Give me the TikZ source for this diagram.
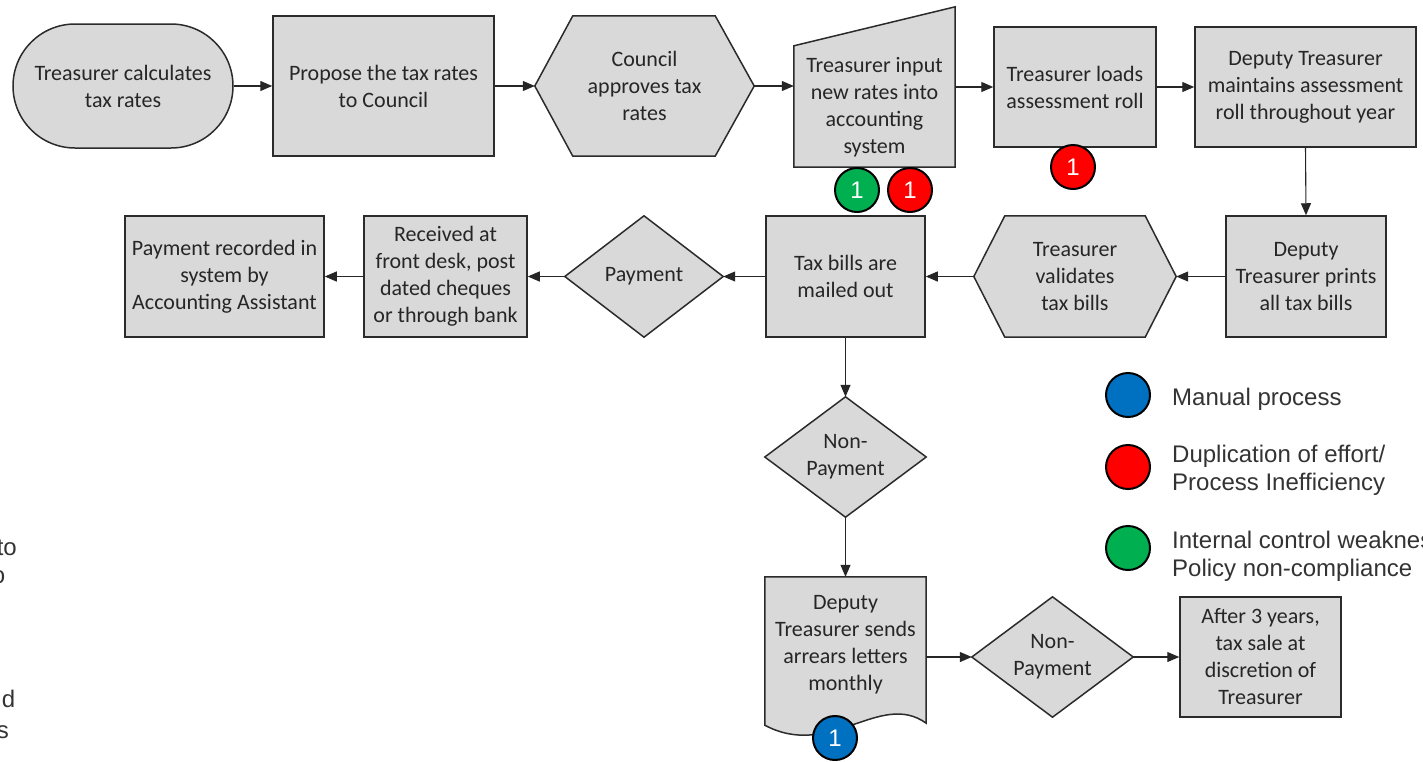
\documentclass[tikz,border=0pt]{standalone}
\usepackage{fontspec}
\setmainfont{Carlito}
\newfontfamily\legendfont{Liberation Sans}
\usetikzlibrary{arrows.meta,shapes.misc,calc,backgrounds}
\definecolor{boxfill}{HTML}{D9D9D9}
\definecolor{edge}{HTML}{2B2B2B}
\definecolor{ink}{HTML}{262626}
\definecolor{legendink}{HTML}{333333}
\definecolor{flagblue}{HTML}{0070C0}
\definecolor{flagred}{HTML}{FF0000}
\definecolor{flaggreen}{HTML}{00B050}

\begin{document}
\begin{tikzpicture}[x=1pt,y=-1pt,
  label text/.style={font=\fontsize{22}{27}\selectfont, align=center, text=ink, inner sep=0pt},
  proc/.style={label text, rectangle, draw=edge, fill=boxfill, line width=1.5pt},
  ghost/.style={label text, rectangle, draw=none, fill=none},
  outline/.style={draw=edge, fill=boxfill, line width=1.5pt, line join=miter},
  link/.style={-{Triangle[length=12pt,width=10pt]}, line width=1.1pt, draw=ink},
  flag/.style={circle, draw=black, line width=2pt, minimum size=44pt, inner sep=0pt,
    text=white, font=\legendfont\fontsize{24}{24}\selectfont},
  legend text/.style={font=\legendfont\fontsize{24}{28}\selectfont, text=legendink,
    align=left, inner sep=0pt}
]
\useasboundingbox (0,0) rectangle (1423,761);
\clip (0,0) rectangle (1423,761);

% ---------- top row ----------
\node[proc, rounded rectangle, minimum width=220pt, minimum height=124pt]
  (calc) at (123,86) {Treasurer calculates\\tax rates};
\node[proc, minimum width=221pt, minimum height=140pt]
  (propose) at (383.5,86) {Propose the tax rates\\to Council};
\node[ghost, minimum width=219pt, minimum height=140pt]
  (approve) at (644.5,86) {Council\\approves tax\\rates};
\node[ghost, minimum width=161pt, minimum height=160pt] (input) at (874.5,87) {};
\node[label text] (inputtext) at (874.5,107.5)
  {Treasurer input\\new rates into\\accounting\\system};
\node[proc, minimum width=162pt, minimum height=120pt]
  (loads) at (1075,87) {Treasurer loads\\assessment roll};
\node[proc, minimum width=221pt, minimum height=120pt]
  (maintain) at (1305.5,87) {Deputy Treasurer\\maintains assessment\\roll throughout year};

% ---------- second row ----------
\node[proc, minimum width=160pt, minimum height=121pt]
  (prints) at (1306,276.5) {Deputy\\Treasurer prints\\all tax bills};
\node[ghost, minimum width=202pt, minimum height=121pt]
  (validate) at (1075,276.5) {Treasurer\\validates\\tax bills};
\node[proc, minimum width=159pt, minimum height=121pt]
  (mailed) at (845.5,276.5) {Tax bills are\\mailed out};
\node[ghost, minimum width=158pt, minimum height=121pt]
  (pay) at (644,276.5) {Payment};
\node[proc, minimum width=163pt, minimum height=121pt]
  (received) at (445.5,276.5) {Received at\\front desk, post\\dated cheques\\or through bank};
\node[proc, minimum width=199pt, minimum height=121pt]
  (recorded) at (224.5,276.5) {Payment recorded in\\system by\\Accounting Assistant};

% ---------- non-payment branch ----------
\node[ghost, minimum width=161pt, minimum height=120pt]
  (nonpayA) at (845.5,457) {Non-\\Payment};
\node[ghost, minimum width=161pt, minimum height=148pt] (letters) at (845.5,651) {};
\node[label text] (letterstext) at (845.5,645)
  {Deputy\\Treasurer sends\\arrears letters\\monthly};
\node[ghost, minimum width=161pt, minimum height=120pt]
  (nonpayB) at (1052.5,657) {Non-\\Payment};
\node[proc, minimum width=161pt, minimum height=120pt]
  (after) at (1260.5,657) {After 3 years,\\tax sale at\\discretion of\\Treasurer};

% ---------- outlined shapes behind their text ----------
\begin{scope}[on background layer]
  % hexagons
  \draw[outline] ($(approve.north west)+(38,0)$) -- ($(approve.north east)+(-39,0)$)
    -- (approve.east) -- ($(approve.south east)+(-39,0)$)
    -- ($(approve.south west)+(38,0)$) -- (approve.west) -- cycle;
  \draw[outline] ($(validate.north west)+(31,0)$) -- ($(validate.north east)+(-31,0)$)
    -- (validate.east) -- ($(validate.south east)+(-31,0)$)
    -- ($(validate.south west)+(31,0)$) -- (validate.west) -- cycle;
  % manual input
  \draw[outline] (input.south west) -- (input.south east) -- (input.north east)
    -- ($(input.north west)+(0,39)$) -- cycle;
  % decisions
  \draw[outline] (pay.north) -- (pay.east) -- (pay.south) -- (pay.west) -- cycle;
  \draw[outline] (nonpayA.north) -- (nonpayA.east) -- (nonpayA.south) -- (nonpayA.west) -- cycle;
  \draw[outline] (nonpayB.north) -- (nonpayB.east) -- (nonpayB.south) -- (nonpayB.west) -- cycle;
  % document
  \draw[outline] (letters.north west) -- (letters.north east)
    -- ($(letters.south east)+(0,-2)$) .. controls (880,690) and (830,760) .. (letters.south west)
    -- cycle;
\end{scope}

% ---------- connectors ----------
\draw[link] (calc.east) -- (propose.west);
\draw[link] (propose.east) -- (approve.west);
\draw[link] (approve.east) -- (approve.east -| input.west);
\draw[link] (input.east |- loads.west) -- (loads.west);
\draw[link] (loads.east) -- (maintain.west);
\draw[link] (maintain.south) -- (prints.north);
\draw[link] (prints.west) -- (validate.east);
\draw[link] (validate.west) -- (mailed.east);
\draw[link] (mailed.west) -- (pay.east);
\draw[link] (pay.west) -- (received.east);
\draw[link] (received.west) -- (recorded.east);
\draw[link] (mailed.south) -- (nonpayA.north);
\draw[link] (nonpayA.south) -- (letters.north);
\draw[link] (letters.east |- nonpayB.west) -- (nonpayB.west);
\draw[link] (nonpayB.east) -- (after.west);

% ---------- issue flags ----------
\node[flag, fill=flaggreen] (flagA) at (857,190) {1};
\node[flag, fill=flagred] (flagB) at (910,190) {1};
\node[flag, fill=flagred] (flagC) at (1073,167) {1};
\node[flag, fill=flagblue] (flagD) at (835,738) {1};

% ---------- legend ----------
\node[flag, fill=flagblue] (keyblue) at (1128,395) {};
\node[flag, fill=flagred] (keyred) at (1128,467) {};
\node[flag, fill=flaggreen] (keygreen) at (1128,548) {};
\node[legend text, anchor=base west] (keybluetext) at (1172,405) {Manual process};
\node[legend text, anchor=west] (keyredtext) at (1172,470.5)
  {Duplication of effort/\\Process Inefficiency};
\node[legend text, anchor=west] (keygreentext) at (1172,556.5)
  {Internal control weakness/\\Policy non-compliance};

% ---------- text running in from the left edge ----------
\node[legend text, anchor=base east] (edgeA) at (17,555) {to};
\node[legend text, anchor=base east] (edgeB) at (5.5,583) {o};
\node[legend text, anchor=base east] (edgeC) at (15.5,707) {d};
\node[legend text, anchor=base east] (edgeD) at (9,738) {s};
\end{tikzpicture}
\end{document}
